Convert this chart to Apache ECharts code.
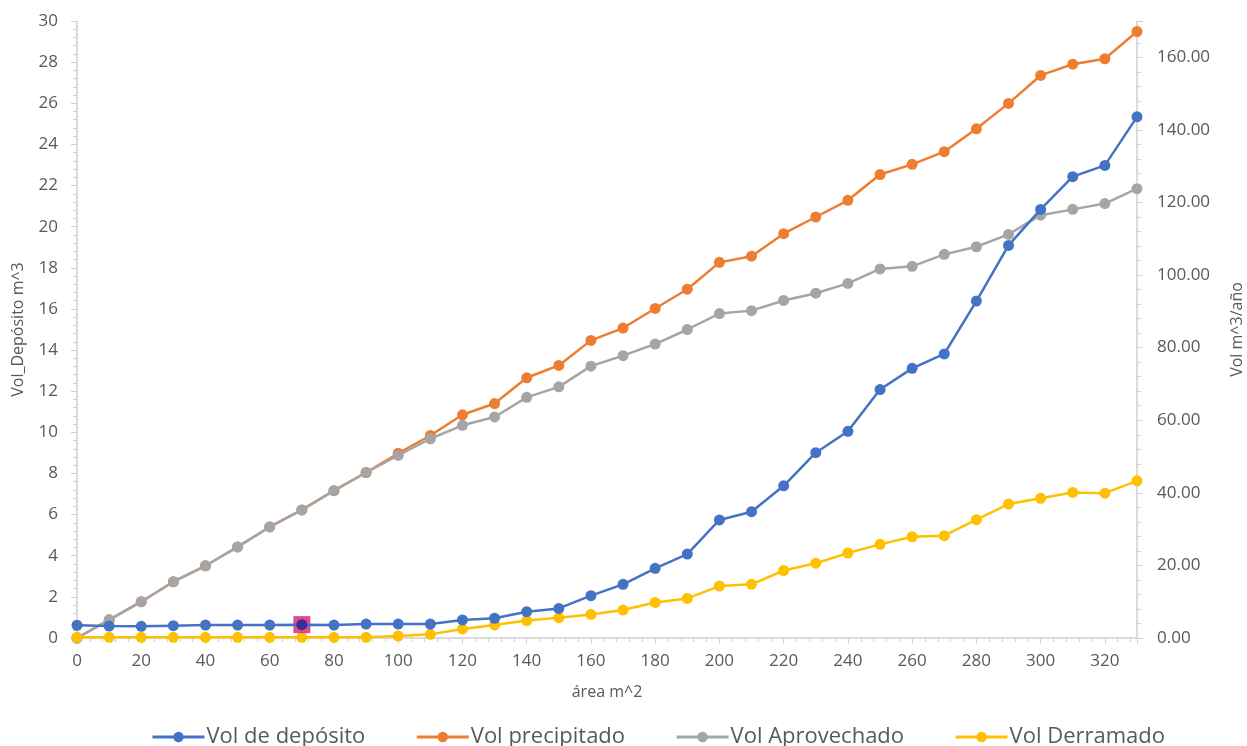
<!DOCTYPE html>
<html>
<head>
<meta charset="utf-8">
<script src="https://cdn.jsdelivr.net/npm/echarts@6/dist/echarts.min.js"></script>
<style>
html,body{margin:0;padding:0;background:#fff;}
#c{width:1247px;height:746px;}
</style>
</head>
<body>
<div id="c"></div>
<script>
const area = [0,10,20,30,40,50,60,70,80,90,100,110,120,130,140,150,160,170,180,190,200,210,220,230,240,250,260,270,280,290,300,310,320,330];
const volDeposito = [0.62,0.58,0.57,0.6,0.63,0.63,0.63,0.65,0.63,0.68,0.68,0.68,0.88,0.96,1.28,1.44,2.06,2.61,3.39,4.08,5.74,6.14,7.40,9.01,10.05,12.08,13.11,13.81,16.38,19.09,20.84,22.43,22.98,25.34];
const volPrecipitado = [0,5.0,10.0,15.5,19.9,25.1,30.6,35.3,40.6,45.6,50.9,55.8,61.5,64.6,71.7,75.1,82.0,85.4,90.8,96.1,103.5,105.2,111.4,116.0,120.6,127.7,130.5,134.0,140.3,147.3,155.0,158.1,159.6,167.1];
const volAprovechado = [0,5.0,10.0,15.5,19.9,25.1,30.6,35.3,40.6,45.6,50.3,54.9,58.6,60.9,66.3,69.2,74.9,77.8,81.0,85.0,89.4,90.2,93.0,95.0,97.7,101.7,102.4,105.7,107.8,111.2,116.5,118.1,119.7,123.8];
const volDerramado = [0.2,0.2,0.2,0.2,0.2,0.2,0.2,0.2,0.2,0.2,0.55,1.0,2.5,3.6,4.8,5.6,6.5,7.7,9.8,10.9,14.3,14.8,18.6,20.6,23.4,25.8,27.9,28.2,32.6,36.9,38.5,40.1,39.9,43.3];
const highlightIndex = 7;

const seriesNames = ['Vol de depósito','Vol precipitado','Vol Aprovechado','Vol Derramado'];
const colors = ['#4472C4','#ED7D31','#A5A5A5','#FFC000'];
const txt = '#595959';
const axisCol = '#D0D0D0';
const font = 'Open Sans';

function pairs(vals){ return area.map((a,i)=>[a, vals[i]]); }

const depData = pairs(volDeposito).map((p,i)=> i===highlightIndex ? {value:p, itemStyle:{color:'#3a2d96'}} : p);

function lineSeries(name, data, color, yIdx, z){
  return {
    name, type:'line', data, yAxisIndex:yIdx, symbol:'circle', symbolSize:11,
    lineStyle:{color, width:2.5}, itemStyle:{color}, z, animation:false
  };
}

const chart = echarts.init(document.getElementById('c'), null, {renderer:'canvas'});
chart.setOption({
  backgroundColor:'#fff',
  animation:false,
  textStyle:{fontFamily:font},
  grid:{left:77, right:110, top:21, bottom:108, containLabel:false, outerBoundsMode:'none'},
  legend:{
    top:721, left:146, itemWidth:52, itemHeight:13, itemGap:50,
    lineStyle:{width:3},
    textStyle:{fontSize:22, color:txt, fontFamily:font, padding:[0,0,0,-3]},
    data:seriesNames,
  },
  xAxis:{
    type:'value', min:0, max:330, interval:20,
    name:'área m^2', nameLocation:'middle', nameGap:46,
    nameTextStyle:{fontSize:16, color:txt, fontFamily:font},
    axisLine:{lineStyle:{color:axisCol, width:1.5}},
    axisTick:{show:true, length:6, inside:false, lineStyle:{color:axisCol}},
    minorTick:{show:true, splitNumber:5, length:4, lineStyle:{color:axisCol}},
    axisLabel:{fontSize:17, color:txt, margin:15, showMaxLabel:false, fontFamily:font},
    splitLine:{show:false}
  },
  yAxis:[
    {
      type:'value', min:0, max:30, interval:2, position:'left',
      name:'Vol_Depósito m^3', nameLocation:'middle', nameGap:51, nameRotate:90,
      nameTextStyle:{fontSize:16, color:txt, fontFamily:font},
      axisLine:{show:true, lineStyle:{color:axisCol, width:1.5}},
      axisTick:{show:true, length:6, lineStyle:{color:axisCol}},
      minorTick:{show:true, splitNumber:5, length:4, lineStyle:{color:axisCol}},
      axisLabel:{fontSize:17, color:txt, margin:19, fontFamily:font},
      splitLine:{show:false}
    },
    {
      type:'value', min:0, max:170, interval:20, position:'right',
      name:'Vol m^3/año', nameLocation:'middle', nameGap:92, nameRotate:90,
      nameTextStyle:{fontSize:16, color:txt, fontFamily:font},
      axisLine:{show:true, lineStyle:{color:axisCol, width:1.5}},
      axisTick:{show:true, length:6, lineStyle:{color:axisCol}},
      minorTick:{show:true, splitNumber:5, length:4, lineStyle:{color:axisCol}},
      axisLabel:{fontSize:17, color:txt, margin:20, showMaxLabel:false, fontFamily:font,
        formatter:v=>v.toFixed(2)},
      splitLine:{show:false}
    }
  ],
  series:[
    {
      name:'highlight', type:'scatter', yAxisIndex:0, symbol:'rect', symbolSize:17,
      data:[[area[highlightIndex], volDeposito[highlightIndex]]],
      itemStyle:{color:'#D81B7B'}, z:5, silent:true, animation:false
    },
    lineSeries(seriesNames[2], pairs(volAprovechado), colors[2], 1, 2),
    lineSeries(seriesNames[1], pairs(volPrecipitado), colors[1], 1, 1),
    lineSeries(seriesNames[3], pairs(volDerramado), colors[3], 1, 3),
    lineSeries(seriesNames[0], depData, colors[0], 0, 6),
  ]
});
</script>
</body>
</html>
